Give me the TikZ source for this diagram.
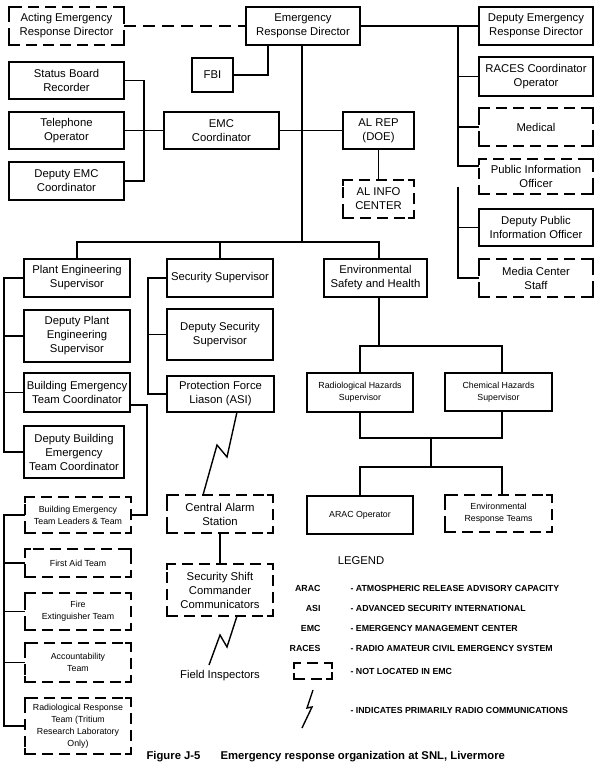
\documentclass[tikz,border=0pt]{standalone}
\usepackage{fontspec}
\setmainfont{Liberation Sans}
\tikzset{
  box/.style={draw, line width=1.5pt, inner sep=0pt, outer sep=0pt, align=center,
              font=\fontsize{11.3}{14}\selectfont},
  dbox/.style={box, dash pattern=on 11pt off 6pt},
  sm/.style={font=\fontsize{8.8}{12}\selectfont},
  conn/.style={line width=1.3pt, line join=miter},
  bolt/.style={line width=1.4pt, line join=miter},
  corner/.style={line width=1.5pt, solid, line cap=rect},
  legab/.style={anchor=east, font=\fontsize{8.8}{10}\selectfont\bfseries},
  legtx/.style={anchor=west, font=\fontsize{8.8}{10}\selectfont\bfseries},
}
% \mkbox[style]{name}{x1}{y1}{x2}{y2}{text}
\newcommand\mkbox[7][box]{%
  \node[#1, minimum width={(#5-#3)*1pt}, minimum height={(#6-#4)*1pt}]
    (#2) at ({(#3+#5)/2},{(#4+#6)/2}) {#7};}
\begin{document}
\begin{tikzpicture}[x=1pt,y=-1pt]
\useasboundingbox[fill=white] (0,0) rectangle (600,770);

% top row
\mkbox[dbox]{acting}{9}{7}{124}{45}{Acting Emergency\\Response Director}
\mkbox{erd}{246}{7}{360}{45}{Emergency\\Response Director}
\mkbox{deperd}{479}{7}{593}{45}{Deputy Emergency\\Response Director}
\mkbox{fbi}{192}{58}{233}{92}{FBI}

% left EMC group
\mkbox{status}{9}{62}{124}{99}{Status Board\\Recorder}
\mkbox{tel}{9}{112}{124}{149}{Telephone\\Operator}
\mkbox{depemc}{9}{162}{124}{200}{Deputy EMC\\Coordinator}
\mkbox{emc}{164}{112}{279}{149}{EMC\\Coordinator}
\mkbox{alrep}{343}{112}{414}{149}{AL REP\\(DOE)}
\mkbox[dbox]{alinfo}{343}{180}{414}{218}{AL INFO\\CENTER}

% right column
\mkbox{races}{479}{57}{593}{96}{RACES Coordinator\\Operator}
\mkbox[dbox]{medical}{479}{108}{593}{146}{Medical}
\mkbox[dbox]{pubinfo}{479}{159}{593}{194}{Public Information\\Officer}
\mkbox{deppub}{479}{209}{593}{246}{Deputy Public\\Information Officer}
\mkbox[dbox]{media}{479}{259}{593}{297}{Media Center\\Staff}

% second level
\mkbox{plant}{24}{259}{130}{297}{Plant Engineering\\Supervisor}
\mkbox{secsup}{167}{259}{273}{297}{Security Supervisor}
\mkbox{env}{324}{259}{427}{297}{Environmental\\Safety and Health}
\mkbox{depplant}{24}{310}{130}{362}{Deputy Plant\\Engineering\\Supervisor}
\mkbox{depsec}{167}{309}{273}{360}{Deputy Security\\Supervisor}
\mkbox{betc}{24}{373}{130}{412}{Building Emergency\\Team Coordinator}
\mkbox{pfl}{167}{376}{274}{412}{Protection Force\\Liason (ASI)}
\mkbox[box,sm]{rad}{307}{373}{413}{412}{Radiological Hazards\\Supervisor}
\mkbox[box,sm]{chem}{445}{373}{552}{411}{Chemical Hazards\\Supervisor}
\mkbox{depbetc}{24}{426}{124}{478}{Deputy Building\\Emergency\\Team Coordinator}

% lower
\mkbox[dbox,sm]{betl}{25}{497}{131}{533}{Building Emergency\\Team Leaders \& Team}
\mkbox[dbox]{cas}{167}{495}{273}{533}{Central Alarm\\Station}
\mkbox[box,sm]{arac}{307}{496}{413}{534}{ARAC Operator}
\mkbox[dbox,sm]{ert}{445}{495}{552}{532}{Environmental\\Response Teams}
\mkbox[dbox,sm]{firstaid}{25}{549}{131}{577}{First Aid Team}
\mkbox[dbox]{ssc}{167}{564}{273}{616}{Security Shift\\Commander\\Communicators}
\mkbox[dbox,sm]{fire}{25}{593}{131}{630}{Fire\\Extinguisher Team}
\mkbox[dbox,sm]{acct}{25}{643}{131}{682}{Accountability\\Team}
\mkbox[dbox,sm]{radresp}{25}{698}{131}{754}{Radiological Response\\Team (Tritium\\Research Laboratory\\Only)}
\node[font=\fontsize{11.3}{14}\selectfont] (fi) at (220,676) {Field Inspectors};
\coordinate (fiend) at (209,665);

% legend
\node[font=\fontsize{11.3}{14}\selectfont] (leg) at (361,561) {LEGEND};
\node[legab] (ab1) at (324,588) {ARAC};
\node[legab] (ab2) at (324,608) {ASI};
\node[legab] (ab3) at (324,628) {EMC};
\node[legab] (ab4) at (324,648) {RACES};
\node[legtx] (d1) at (347,588) {- ATMOSPHERIC RELEASE ADVISORY CAPACITY};
\node[legtx] (d2) at (347,608) {- ADVANCED SECURITY INTERNATIONAL};
\node[legtx] (d3) at (347,628) {- EMERGENCY MANAGEMENT CENTER};
\node[legtx] (d4) at (347,648) {- RADIO AMATEUR CIVIL EMERGENCY SYSTEM};
\node[legtx] (d5) at (347,671) {- NOT LOCATED IN EMC};
\node[legtx] (d6) at (347,710) {- INDICATES PRIMARILY RADIO COMMUNICATIONS};
\mkbox[dbox]{legbox}{294}{663}{332}{679}{}
\coordinate (lb1) at (313,690);
\coordinate (lb2) at (307,708);
\coordinate (lb3) at (312,707);
\coordinate (lb4) at (302,728);
\draw[bolt] (lb1) -- (lb2) -- (lb3) -- (lb4);

% caption
\node[anchor=west, font=\fontsize{11.3}{13}\selectfont\bfseries] (cap1) at (143,757) {Figure J-5};
\node[anchor=west, font=\fontsize{11.3}{13}\selectfont\bfseries] (cap2) at (217,757) {Emergency response organization at SNL, Livermore};

% corners of dashed boxes
\foreach \n in {acting,alinfo,medical,pubinfo,media,betl,cas,ert,firstaid,ssc,fire,acct,radresp,legbox}{
  \draw[corner] ([xshift=5pt]\n.north west) -- (\n.north west) -- ([yshift=-5pt]\n.north west);
  \draw[corner] ([xshift=-5pt]\n.north east) -- (\n.north east) -- ([yshift=-5pt]\n.north east);
  \draw[corner] ([xshift=5pt]\n.south west) -- (\n.south west) -- ([yshift=5pt]\n.south west);
  \draw[corner] ([xshift=-5pt]\n.south east) -- (\n.south east) -- ([yshift=5pt]\n.south east);
}

% connectors: top
\draw[line width=1.5pt, dash pattern=on 12pt off 7pt] (acting.east) -- (erd.west);
\draw[conn] (erd.east) -- (deperd.west);
\draw[conn] (erd.south -| 268,0) |- (fbi.east);
\draw[conn] (erd.south -| 302,0) -- (302,242);

% right column
\draw[conn] (458,0 |- erd.east) -- (458,166) -- (pubinfo.west |- 0,166);
\draw[conn] (458,0 |- races.west) -- (races.west);
\draw[conn] (458,0 |- medical.west) -- (medical.west);
\draw[conn] (458,187) -- (458,0 |- media.west) -- (media.west);
\draw[conn] (458,0 |- deppub.west) -- (deppub.west);

% EMC group
\draw[conn] (status.east) -- (144,0 |- status.east) -- (144,0 |- depemc.east) -- (depemc.east);
\draw[conn] (tel.east) -- (emc.west);
\draw[conn] (emc.east) -- (alrep.west);
\draw[conn] (alrep.south) -- (alinfo.north);

% main bus
\draw[conn] (plant.north) -- (plant.north |- 0,242) -- (379,242) -- (379,0 |- env.north);
\draw[conn] (secsup.north) -- (secsup.north |- 0,242);

% plant bracket
\draw[conn] (plant.west) -- (4,0 |- plant.west) -- (4,0 |- depbetc.west) -- (depbetc.west);
\draw[conn] (4,0 |- depplant.west) -- (depplant.west);
\draw[conn] (4,0 |- betc.west) -- (betc.west);
\draw[conn] (betc.east |- 0,405) -- (147,405) -- (147,0 |- betl.east) -- (betl.east);

% team bracket
\draw[conn] (betl.west) -- (4,0 |- betl.west) -- (4,0 |- radresp.west) -- (radresp.west);
\draw[conn] (4,0 |- firstaid.west) -- (firstaid.west);
\draw[conn] (4,0 |- fire.west) -- (fire.west);
\draw[conn] (4,0 |- acct.west) -- (acct.west);

% security bracket
\draw[conn] (secsup.west) -- (148,0 |- secsup.west) -- (148,0 |- pfl.west) -- (pfl.west);
\draw[conn] (148,0 |- depsec.west) -- (depsec.west);
\draw[bolt] (pfl.south -| 237,0) -- (227,457) -- (217,445) -- (cas.north -| 203,0);
\draw[conn] (cas.south) -- (ssc.north);
\draw[bolt] (ssc.south -| 237,0) -- (227,647) -- (220,635) -- (fiend);

% environmental
\draw[conn] (379,0 |- env.south) -- (379,346);
\draw[conn] (rad.north) -- (rad.north |- 0,346) -- (502,346) -- (502,0 |- chem.north);
\draw[conn] (rad.south) -- (rad.south |- 0,438) -- (502,438) -- (502,0 |- chem.south);
\draw[conn] (431,438) -- (431,467);
\draw[conn] (arac.north) -- (arac.north |- 0,467) -- (502,467) -- (502,0 |- ert.north);
\end{tikzpicture}
\end{document}
